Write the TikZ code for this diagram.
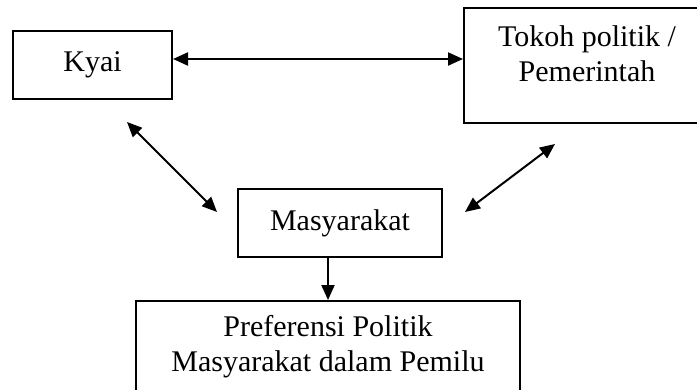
\documentclass[tikz,border=0pt]{standalone}
\usepackage{fontspec}
\setmainfont{Liberation Serif}
\usetikzlibrary{arrows.meta}

\begin{document}
\begin{tikzpicture}[x=0.5pt, y=-0.5pt, line width=1pt,
                    box/.style={draw, rectangle, inner sep=0pt, align=center,
                                font=\fontsize{15}{17.5}\selectfont},
                    dbl/.style={{Triangle[length=7.5pt,width=6.5pt]}-{Triangle[length=7.5pt,width=6.5pt]}},
                    one/.style={-{Triangle[length=7.5pt,width=6.5pt]}}]

  \clip (0,0) rectangle (697,390);

  \node[box, minimum width=79.5pt, minimum height=34pt] (kyai) at (92.5,65) {Kyai};
  \node[box, minimum width=123pt, minimum height=57.5pt,
        label={[anchor=north, align=center, inner sep=0pt, yshift=-9pt,
                font=\fontsize{15}{17.5}\selectfont]north:{Tokoh politik /\\Pemerintah}}]
        (tokoh) at (587,65.5) {};
  \node[box, minimum width=102pt, minimum height=34pt] (masy) at (340,223) {Masyarakat};
  \node[box, minimum width=192pt, minimum height=46pt] (pref) at (328,347)
        {Preferensi Politik\\Masyarakat dalam Pemilu};

  % free ends of the diagonal arrows
  \coordinate (k1) at (127,122);
  \coordinate (k2) at (217,212);
  \coordinate (t1) at (555,144);
  \coordinate (t2) at (465,212);

  \draw[dbl] ([yshift=3pt]kyai.east) -- ([yshift=3pt]kyai.east -| tokoh.west);
  \draw[dbl] (k1) -- (k2);
  \draw[dbl] (t1) -- (t2);
  \draw[one] (pref.north |- masy.south) -- (pref.north);

\end{tikzpicture}
\end{document}
